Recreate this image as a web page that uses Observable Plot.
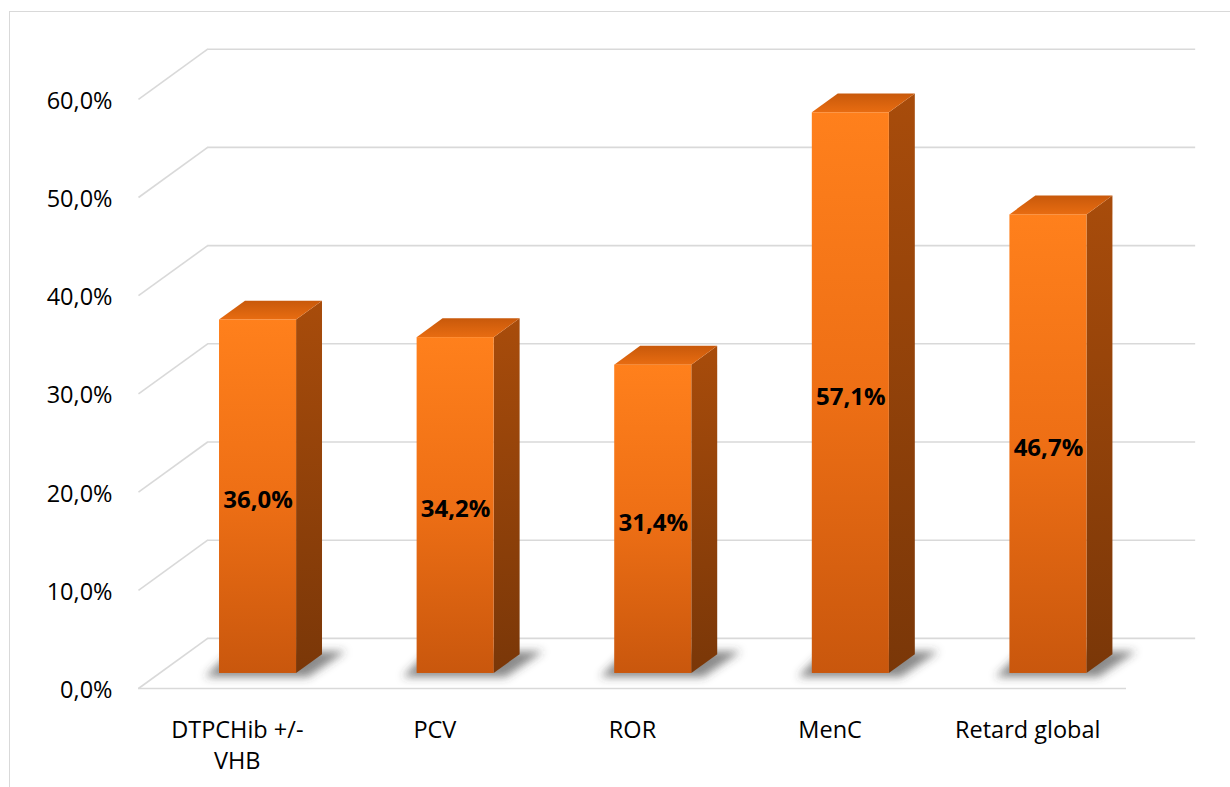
<!DOCTYPE html>
<html>
<head>
<meta charset="utf-8">
<script src="https://cdn.jsdelivr.net/npm/d3@7"></script>
<script src="https://cdn.jsdelivr.net/npm/@observablehq/plot@0.6"></script>
<style>
  html, body { margin: 0; padding: 0; background: #fff; }
  #wrap { position: relative; width: 1230px; height: 787px; overflow: hidden; }
  #frame { position: absolute; left: 9px; top: 11px; right: -4px; bottom: -4px;
           border-left: 1.5px solid #d9d9d9; border-top: 1.5px solid #d9d9d9; }
  #chart { position: absolute; left: 0; top: 0; }
</style>
</head>
<body>
<svg width="0" height="0" style="position:absolute">
  <defs>
    <linearGradient id="frontFace" x1="0" y1="0" x2="0" y2="1">
      <stop offset="0" stop-color="#ff801c"/>
      <stop offset="0.5" stop-color="#ee6f15"/>
      <stop offset="1" stop-color="#c9570d"/>
    </linearGradient>
    <linearGradient id="sideFace" x1="0" y1="0" x2="0" y2="1">
      <stop offset="0" stop-color="#a84c0b"/>
      <stop offset="1" stop-color="#7a3708"/>
    </linearGradient>
    <linearGradient id="topFace" x1="0" y1="0" x2="0" y2="1">
      <stop offset="0" stop-color="#c8590b"/>
      <stop offset="1" stop-color="#e86c11"/>
    </linearGradient>
    <filter id="softShadow" x="-50%" y="-100%" width="200%" height="300%">
      <feGaussianBlur stdDeviation="4.5"/>
    </filter>
  </defs>
</svg>
<div id="wrap">
  <div id="frame"></div>
  <div id="chart"></div>
</div>
<script>
// Vaccination delay by vaccine (share of children, %)
const categories = ["DTPCHib +/-\nVHB", "PCV", "ROR", "MenC", "Retard global"];
const values = [36.0, 34.2, 31.4, 57.1, 46.7];
const yTicks = [0, 10, 20, 30, 40, 50, 60];

// Oblique 3D projection, expressed in data units:
// the back wall sits DEPTH_X categories to the right and DEPTH_Y percent higher.
const DEPTH_X = 0.35;
const DEPTH_Y = 5.1;
const BAR_FRONT = 0.30;   // fraction of floor depth where the bar's front face sits
const BAR_BACK = 0.675;   // fraction of floor depth where the bar's back face sits
const BAR_HALF = 0.195;   // half width of a bar, in category units

const pct = v => v.toFixed(1).replace(".", ",") + "%";

const bars = categories.map((c, i) => ({
  c, i, v: values[i],
  xl: i + 0.5 - BAR_HALF,
  xr: i + 0.5 + BAR_HALF
}));

// Right side face: two edges (front and back) per bar
const sideFaces = bars.flatMap(b => [
  {i: b.i, x: b.xr + BAR_FRONT * DEPTH_X, y1: BAR_FRONT * DEPTH_Y, y2: b.v + BAR_FRONT * DEPTH_Y},
  {i: b.i, x: b.xr + BAR_BACK * DEPTH_X,  y1: BAR_BACK * DEPTH_Y,  y2: b.v + BAR_BACK * DEPTH_Y}
]);

// Top face: front edge and back edge per bar
const topFaces = bars.flatMap(b => [
  {i: b.i, y: b.v + BAR_FRONT * DEPTH_Y, x1: b.xl + BAR_FRONT * DEPTH_X, x2: b.xr + BAR_FRONT * DEPTH_X},
  {i: b.i, y: b.v + BAR_BACK * DEPTH_Y,  x1: b.xl + BAR_BACK * DEPTH_X,  x2: b.xr + BAR_BACK * DEPTH_X}
]);

// Soft floor shadow under each bar's footprint
const shadows = bars.flatMap(b => [
  {i: b.i, y: BAR_FRONT * DEPTH_Y - 0.4, x1: b.xl - 0.07 + BAR_FRONT * DEPTH_X, x2: b.xr + 0.06 + BAR_FRONT * DEPTH_X},
  {i: b.i, y: BAR_BACK * DEPTH_Y + 0.3,  x1: b.xl - 0.07 + BAR_BACK * DEPTH_X,  x2: b.xr + 0.12 + BAR_BACK * DEPTH_X}
]);

const grid = "#d9d9d9";

const chart = Plot.plot({
  width: 1230,
  height: 787,
  margin: 0,
  x: {domain: [0, categories.length], range: [138, 1126], axis: null},
  y: {domain: [0, 60], range: [688, 98.8], axis: null},
  style: {fontFamily: "'Open Sans', sans-serif", fontSize: "23.5px", color: "#000", background: "transparent"},
  marks: [
    // back wall gridlines
    Plot.ruleY(yTicks, {y: d => d + DEPTH_Y, x1: () => DEPTH_X, x2: () => categories.length + DEPTH_X, stroke: grid, strokeWidth: 1.6}),
    // left wall gridlines
    Plot.link(yTicks, {x1: () => 0, y1: d => d, x2: () => DEPTH_X, y2: d => d + DEPTH_Y, stroke: grid, strokeWidth: 1.6}),
    // floor front edge
    Plot.ruleY([0], {x1: () => 0, x2: () => categories.length, stroke: grid, strokeWidth: 1.6}),
    // y tick labels
    Plot.text(yTicks, {x: () => 0, y: d => d, text: pct, textAnchor: "end", dx: -26, dy: 2}),
    // category labels
    Plot.text(bars, {x: d => d.i + 0.5, y: () => 0, text: "c", lineAnchor: "top", dy: 27, lineHeight: 1.33}),
    // shadows
    Plot.areaX(shadows, {y: "y", x1: "x1", x2: "x2", z: "i", fill: "#3c3c3c", fillOpacity: 0.6, ariaDescription: "shadow"}),
    // bar side faces
    Plot.areaY(sideFaces, {x: "x", y1: "y1", y2: "y2", z: "i", fill: "url(#sideFace)"}),
    // bar top faces
    Plot.areaX(topFaces, {y: "y", x1: "x1", x2: "x2", z: "i", fill: "url(#topFace)"}),
    // bar front faces
    Plot.rect(bars, {
      x1: d => d.xl + BAR_FRONT * DEPTH_X,
      x2: d => d.xr + BAR_FRONT * DEPTH_X,
      y1: () => BAR_FRONT * DEPTH_Y,
      y2: d => d.v + BAR_FRONT * DEPTH_Y,
      fill: "url(#frontFace)"
    }),
    // value labels
    Plot.text(bars, {
      x: d => d.i + 0.5 + BAR_FRONT * DEPTH_X,
      y: d => d.v / 2 + BAR_FRONT * DEPTH_Y,
      text: d => pct(d.v),
      fontWeight: "bold",
      fontSize: 24,
      fill: "#000",
      dy: 4
    })
  ]
});

document.getElementById("chart").append(chart);
d3.select(chart).selectAll('g[aria-description="shadow"]').attr("filter", "url(#softShadow)");
</script>
</body>
</html>
